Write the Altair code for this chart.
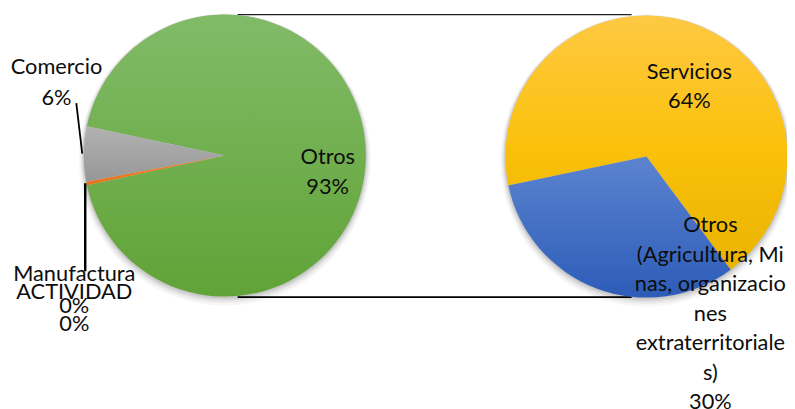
import math
import altair as alt
import pandas as pd

# ---------------- data ----------------
left_categories = ["Otros", "Manufactura", "ACTIVIDAD", "Comercio"]
left_values = [93.3, 0.4, 0.0, 6.3]
left_percent_labels = ["93%", "0%", "0%", "6%"]
left_label_names = ["Otros", "Manufactura", "ACTIVIDAD", "Comercio"]

right_categories = ["Servicios", "Otros (Agricultura, Minas, organizaciones extraterritoriales)"]
right_values = [64.0, 30.0]
right_percent_labels = ["64%", "30%"]
right_label_names = ["Servicios", "Otros\n(Agricultura, Mi\nnas, organizacio\nnes\nextraterritoriale\ns)"]


def build_table(cats, vals, pcts, names):
    total = float(sum(vals))
    cum = 0.0
    rows = []
    for i, (c, v, p, n) in enumerate(zip(cats, vals, pcts, names)):
        rows.append({"cat": c, "value": v, "ord": i,
                     "mid": (cum + v / 2.0) / total, "label": n + "\n" + p})
        cum += v
    return pd.DataFrame(rows)


left_df = build_table(left_categories, left_values, left_percent_labels, left_label_names)
right_df = build_table(right_categories, right_values, right_percent_labels, right_label_names)

# ---------------- styles ----------------
TAU = 2 * math.pi
LEFT_START = math.radians(-78.0)
RIGHT_START = math.radians(-101.8)
LCX, LCY = 219, 147
RCX, RCY = 645, 148
R = 142.5
FONT = "Lato"
FS = 22


def grad(c0, c1, cm=None):
    stops = [{"offset": 0, "color": c0}]
    if cm:
        stops.append({"offset": 0.5, "color": cm})
    stops.append({"offset": 1, "color": c1})
    return {"gradient": "linear", "x1": 0, "y1": 0, "x2": 0, "y2": 1, "stops": stops}


left_colors = {
    "Otros": grad("#82bb68", "#60a337", "#71af4f"),
    "Manufactura": grad("#f0822c", "#e8741c"),
    "ACTIVIDAD": grad("#4d7cc9", "#3461b9"),
    "Comercio": grad("#b2b2b2", "#979797"),
}
right_colors = {
    "Servicios": grad("#fec944", "#e9b400", "#fbc10c"),
    right_categories[1]: grad("#5b83cf", "#2d5cb8"),
}


def color_enc(colors):
    items = list(colors.items())
    w = alt.when(alt.datum.cat == items[0][0]).then(alt.value(items[0][1]))
    for k, v in items[1:-1]:
        w = w.when(alt.datum.cat == k).then(alt.value(v))
    return w.otherwise(alt.value(items[-1][1]))


def shadow(cx, cy):
    layers = []
    for extra, off, op in [(5, 4, 0.035), (3.5, 3, 0.05), (2, 2, 0.07), (1, 1, 0.08)]:
        layers.append(
            alt.Chart(pd.DataFrame({"a": [0]})).mark_arc(color="#000000", opacity=op).encode(
                theta=alt.value(0), theta2=alt.value(TAU),
                x=alt.value(cx), y=alt.value(cy + off), radius=alt.value(R + extra))
        )
    return layers


def pie(df, start, cx, cy, colors):
    return alt.Chart(df).mark_arc(strokeWidth=0).encode(
        theta=alt.Theta("value:Q", stack=True, scale=alt.Scale(range=[start, start + TAU])),
        order=alt.Order("ord:Q", sort="ascending"),
        color=color_enc(colors),
        x=alt.value(cx), y=alt.value(cy), radius=alt.value(R),
    )


def label(df, cat, start, cx, cy, radius, dx, dy, lh=30):
    return alt.Chart(df).transform_filter(alt.datum.cat == cat).mark_text(
        font=FONT, fontSize=FS, lineBreak="\n", lineHeight=lh, align="center",
        baseline="middle", dx=dx, dy=dy, color="#0d0d0d",
    ).encode(
        theta=alt.Theta("mid:Q", scale=alt.Scale(domain=[0, 1], range=[start, start + TAU])),
        radius=alt.value(radius), x=alt.value(cx), y=alt.value(cy), text="label:N",
    )


def rule(x1, x2, y1, y2, w, c="#000000"):
    return alt.Chart(pd.DataFrame({"a": [0]})).mark_rule(color=c, strokeWidth=w).encode(
        x=alt.value(x1), x2=alt.value(x2), y=alt.value(y1), y2=alt.value(y2))


layers = []
# connector lines between the two pies
layers.append(rule(232, 630, 4.7, 4.7, 1.2, "#222222"))
layers.append(rule(232, 630, 290, 290, 1.6))
layers += shadow(LCX, LCY)
layers += shadow(RCX, RCY)
layers.append(pie(left_df, LEFT_START, LCX, LCY, left_colors))
layers.append(pie(right_df, RIGHT_START, RCX, RCY, right_colors))
# leader lines
layers.append(rule(69, 75, 94, 145, 1.8))
layers.append(rule(78, 78, 175, 264, 2.5))
# labels (first line placed at the given offset)
layers.append(label(left_df, "Otros", LEFT_START, LCX, LCY, 100, 4, 2))
layers.append(label(left_df, "Comercio", LEFT_START, LCX, LCY, 150, -20, -88, 32))
layers.append(label(left_df, "Manufactura", LEFT_START, LCX, LCY, 150, -5, 90, 32))
layers.append(label(left_df, "ACTIVIDAD", LEFT_START, LCX, LCY, 150, -4.6, 110, 32))
layers.append(label(right_df, "Servicios", RIGHT_START, RCX, RCY, 80, 15, -11))
layers.append(label(right_df, right_categories[1], RIGHT_START, RCX, RCY, 100, 100, -24, 29.8))

chart = alt.layer(*layers).properties(
    width=787, height=401, padding=0, autosize="none"
).resolve_scale(theta="independent", radius="independent").configure_view(stroke=None)

chart.save("out.html", embed_options={"renderer": "svg", "actions": False})
